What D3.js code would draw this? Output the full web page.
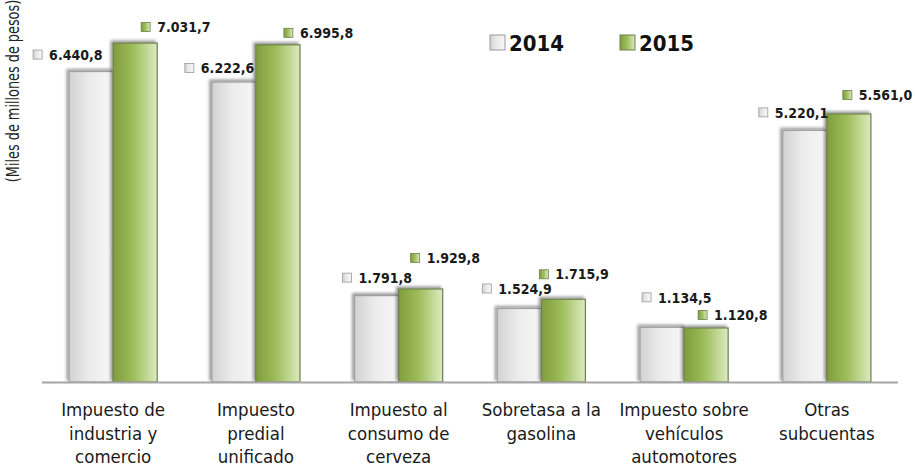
<html>
<head>
<meta charset="utf-8">
<script src="https://d3js.org/d3.v7.min.js"></script>
<style>
  body { margin: 0; background: #fff; }
  svg { display: block; }
  text { font-family: "DejaVu Sans Condensed", "DejaVu Sans", sans-serif; font-stretch: condensed; }
</style>
</head>
<body>
<div id="chart"></div>
<script>

// Data (miles de millones de pesos)
var categories = [
  ["Impuesto de", "industria y", "comercio"],
  ["Impuesto", "predial", "unificado"],
  ["Impuesto al", "consumo de", "cerveza"],
  ["Sobretasa a la", "gasolina"],
  ["Impuesto sobre", "vehículos", "automotores"],
  ["Otras", "subcuentas"]
];
var series = ["2014", "2015"];
var values2014 = [6440.8, 6222.6, 1791.8, 1524.9, 1134.5, 5220.1];
var values2015 = [7031.7, 6995.8, 1929.8, 1715.9, 1120.8, 5561.0];

// label nudges (layout only), relative to bar left edge / bar top
var labelDx = [[-36, -27, -12, -15, 2, -24], [28, 28, 12, -2, 14, 16]];
var labelDy = [[-17, -14, -18, -20, -30, -18], [-16, -12, -31, -25, -13, -19]];

var W = 915, H = 471;
var base = 382;

var svg = d3.select("#chart").append("svg")
  .attr("width", W).attr("height", H);

var defs = svg.append("defs");

var g14 = defs.append("linearGradient").attr("id", "g2014");
g14.append("stop").attr("offset", "0%").attr("stop-color", "#d2d2d2");
g14.append("stop").attr("offset", "45%").attr("stop-color", "#ebebeb");
g14.append("stop").attr("offset", "100%").attr("stop-color", "#f7f7f7");

var g15 = defs.append("linearGradient").attr("id", "g2015");
g15.append("stop").attr("offset", "0%").attr("stop-color", "#7f9d3c");
g15.append("stop").attr("offset", "45%").attr("stop-color", "#9dbd5a");
g15.append("stop").attr("offset", "100%").attr("stop-color", "#dcebc0");

var shadow = defs.append("filter").attr("id", "shadow")
  .attr("x", "-20%").attr("y", "-20%").attr("width", "140%").attr("height", "140%");
shadow.append("feDropShadow")
  .attr("dx", -2).attr("dy", -2).attr("stdDeviation", 1.5)
  .attr("flood-color", "#000").attr("flood-opacity", 0.4);

var x0 = d3.scaleBand()
  .domain(d3.range(categories.length))
  .range([42, 898])
  .paddingInner(0.383)
  .paddingOuter(0.19);

var x1 = d3.scaleBand()
  .domain(series)
  .range([0, x0.bandwidth()]);

var y = d3.scaleLinear()
  .domain([0, 8000])
  .range([base, base - 8000 * 0.0482]);

var fills = { "2014": "url(#g2014)", "2015": "url(#g2015)" };
var strokes = { "2014": "#a0a0a0", "2015": "#6f7f50" };
var allValues = { "2014": values2014, "2015": values2015 };

var fmt = function(d) {
  return d3.format(",.1f")(d).replace(/,/g, "#").replace(".", ",").replace(/#/g, ".");
};

// bars
series.forEach(function(s) {
  svg.append("g").selectAll("rect")
    .data(allValues[s])
    .enter().append("rect")
      .attr("x", function(d, i) { return x0(i) + x1(s); })
      .attr("y", function(d) { return y(d); })
      .attr("width", x1.bandwidth())
      .attr("height", function(d) { return base - y(d); })
      .attr("fill", fills[s])
      .attr("stroke", strokes[s])
      .attr("stroke-width", 1.2)
      .attr("filter", "url(#shadow)");
});

// baseline
svg.append("line")
  .attr("x1", 42).attr("x2", 898)
  .attr("y1", base + 0.5).attr("y2", base + 0.5)
  .attr("stroke", "#a6a6a6").attr("stroke-width", 2);

// value labels
series.forEach(function(s, si) {
  var lab = svg.append("g").selectAll("g")
    .data(allValues[s])
    .enter().append("g")
      .attr("transform", function(d, i) {
        return "translate(" + (x0(i) + x1(s) + labelDx[si][i]) + "," + (y(d) + labelDy[si][i]) + ")";
      });
  lab.append("rect")
    .attr("y", -4.5).attr("width", 9).attr("height", 9)
    .attr("fill", fills[s])
    .attr("stroke", s === "2014" ? "#9a9a9a" : "#6f7f50")
    .attr("stroke-width", 0.8);
  lab.append("text")
    .attr("x", 16).attr("dy", "0.37em")
    .attr("font-weight", "bold")
    .attr("font-size", 14)
    .attr("fill", "#1a1a1a")
    .text(fmt);
});

// category labels
var cat = svg.append("g").selectAll("text")
  .data(categories)
  .enter().append("text")
    .attr("x", function(d, i) { return x0(i) + x0.bandwidth() / 2; })
    .attr("y", 416)
    .attr("text-anchor", "middle")
    .attr("font-size", 18.5)
    .attr("fill", "#1a1a1a");
cat.selectAll("tspan")
  .data(function(d) { return d; })
  .enter().append("tspan")
    .attr("x", function() { return d3.select(this.parentNode).attr("x"); })
    .attr("dy", function(d, i) { return i === 0 ? 0 : 23.5; })
    .text(function(d) { return d; });

// y title
svg.append("text")
  .attr("transform", "translate(19,91) rotate(-90) scale(0.84,1)")
  .attr("text-anchor", "middle")
  .attr("font-size", 17)
  .attr("fill", "#222")
  .text("(Miles de millones de pesos)");

// legend
var legend = svg.append("g").selectAll("g")
  .data(series)
  .enter().append("g")
    .attr("transform", function(d, i) { return "translate(" + (490 + i * 130) + ",35)"; });
legend.append("rect")
  .attr("width", 15).attr("height", 15)
  .attr("fill", function(d) { return fills[d]; })
  .attr("stroke", function(d) { return d === "2014" ? "#9a9a9a" : "#6f7f50"; })
  .attr("stroke-width", 1);
legend.append("text")
  .attr("x", 19).attr("y", 15.5)
  .attr("font-weight", "bold")
  .attr("font-size", 22)
  .attr("fill", "#111")
  .text(function(d) { return d; });

</script>
</body>
</html>
